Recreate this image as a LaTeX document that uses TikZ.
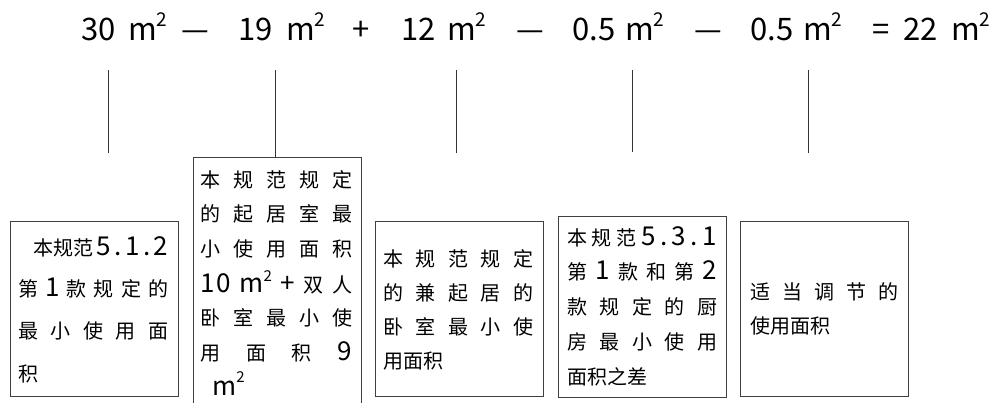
\documentclass[tikz,border=0pt]{standalone}
\usepackage{fontspec}
\setmainfont{Noto Sans CJK SC}
\newcommand{\jl}[2]{\makebox[#1pt][s]{#2}}
\newcommand{\msq}{m\raisebox{14pt}{\fontsize{19}{19}\selectfont 2}}
\newcommand{\msqs}[1]{m\raisebox{#1pt}{\fontsize{15}{15}\selectfont 2}}
\newcommand{\dg}[1]{{\fontsize{26}{26}\selectfont #1}}
\begin{document}
\begin{tikzpicture}[x=1pt,y=-1pt,
  fm/.style={anchor=base west,inner sep=0pt,font=\fontsize{31}{31}\selectfont},
  fmc/.style={anchor=base,inner sep=0pt,font=\fontsize{31}{31}\selectfont},
  txt/.style={anchor=base west,inner sep=0pt,font=\fontsize{20}{20}\selectfont},
  box/.style={draw=black!75,line width=0.9pt,anchor=north west,inner sep=0pt},
  conn/.style={draw=black!80,line width=0.9pt}]
\useasboundingbox (0,0) rectangle (992,403);
\clip (0,0) rectangle (992,403);
% formula
\node[fm] (n30) at (81,41) {30};
\node[fm] (m1) at (128,41) {\msq};
\node[fmc] (d1) at (195,41) {—};
\node[fm] (n19) at (238,41) {19};
\node[fm] (m2) at (286,41) {\msq};
\node[fmc] (p1) at (361.5,41) {+};
\node[fm] (n12) at (401,41) {12};
\node[fm] (m3) at (447,41) {\msq};
\node[fmc] (d2) at (530,41) {—};
\node[fm] (n05a) at (572,41) {0.5};
\node[fm] (m4) at (625,41) {\msq};
\node[fmc] (d3) at (708,41) {—};
\node[fm] (n05b) at (750,41) {0.5};
\node[fm] (m5) at (803,41) {\msq};
\node[fmc] (eq) at (881,41) {=};
\node[fm] (n22) at (903,41) {22};
\node[fm] (m6) at (951,41) {\msq};
% boxes
\node[box,minimum width=168pt,minimum height=175pt] (b1) at (10,221) {};
\node[box,minimum width=168pt,minimum height=260pt] (b2) at (193,157) {};
\node[box,minimum width=168pt,minimum height=175pt] (b3) at (375,221) {};
\node[box,minimum width=168pt,minimum height=181pt] (b4) at (558,216) {};
\node[box,minimum width=168pt,minimum height=175pt] (b5) at (740,221) {};
% connectors
\coordinate (t1) at (108.5,70); \coordinate (e1) at (108.5,153);
\coordinate (t2) at (275,70);
\coordinate (t3) at (456,70); \coordinate (e3) at (456,153);
\coordinate (t4) at (632,70); \coordinate (e4) at (632,152);
\coordinate (t5) at (808,70); \coordinate (e5) at (808,153);
\draw[conn] (t1) -- (e1);
\draw[conn] (t2) -- (t2 |- b2.north);
\draw[conn] (t3) -- (e3);
\draw[conn] (t4) -- (e4);
\draw[conn] (t5) -- (e5);
% box 1 text
\node[txt] (a1) at (33,255) {\jl{135}{本规范\hfill \dg{5}\hfill \dg{.}\hfill \dg{1}\hfill \dg{.}\hfill \dg{2}}};
\node[txt] (a2) at (18,296) {\jl{150}{第\hfill \dg{1}\hfill 款\hfill 规\hfill 定\hfill 的}};
\node[txt] (a3) at (18,338) {\jl{150}{最\hfill 小\hfill 使\hfill 用\hfill 面}};
\node[txt] (a4) at (18,381) {积};
% box 2 text
\node[txt] (c1) at (200,187.6) {\jl{152}{本\hfill 规\hfill 范\hfill 规\hfill 定}};
\node[txt] (c2) at (200,222) {\jl{152}{的\hfill 起\hfill 居\hfill 室\hfill 最}};
\node[txt] (c3) at (200,256.6) {\jl{152}{小\hfill 使\hfill 用\hfill 面\hfill 积}};
\node[txt] (c4) at (200,292) {\jl{152}{\dg{1\hspace{2pt}0}\hfill \dg{\msqs{11}}\hfill \dg{+}\hfill 双\hfill 人}};
\node[txt] (c5) at (200,325.6) {\jl{152}{卧\hfill 室\hfill 最\hfill 小\hfill 使}};
\node[txt] (c6) at (200,360) {\jl{152}{用\hfill 面\hfill 积\hfill \dg{9}}};
\node[txt] (c7) at (212,395) {\dg{\msqs{13}}};
% box 3 text
\node[txt] (d31) at (383,266.6) {\jl{150}{本\hfill 规\hfill 范\hfill 规\hfill 定}};
\node[txt] (d32) at (383,300.6) {\jl{150}{的\hfill 兼\hfill 起\hfill 居\hfill 的}};
\node[txt] (d33) at (383,334.6) {\jl{150}{卧\hfill 室\hfill 最\hfill 小\hfill 使}};
\node[txt] (d34) at (383,368.6) {用面积};
% box 4 text
\node[txt] (f1) at (567,245.6) {\jl{150}{本\hfill 规\hfill 范\hfill \dg{5}\hfill \dg{.}\hfill \dg{3}\hfill \dg{.}\hfill \dg{1}}};
\node[txt] (f2) at (567,279.6) {\jl{150}{第\hfill \dg{1}\hfill 款\hfill 和\hfill 第\hfill \dg{2}}};
\node[txt] (f3) at (567,314.6) {\jl{150}{款\hfill 规\hfill 定\hfill 的\hfill 厨}};
\node[txt] (f4) at (567,349.6) {\jl{150}{房\hfill 最\hfill 小\hfill 使\hfill 用}};
\node[txt] (f5) at (567,384.6) {面积之差};
% box 5 text
\node[txt] (g1) at (750,299.6) {\jl{148}{适\hfill 当\hfill 调\hfill 节\hfill 的}};
\node[txt] (g2) at (750,333.6) {使用面积};
\end{tikzpicture}
\end{document}
